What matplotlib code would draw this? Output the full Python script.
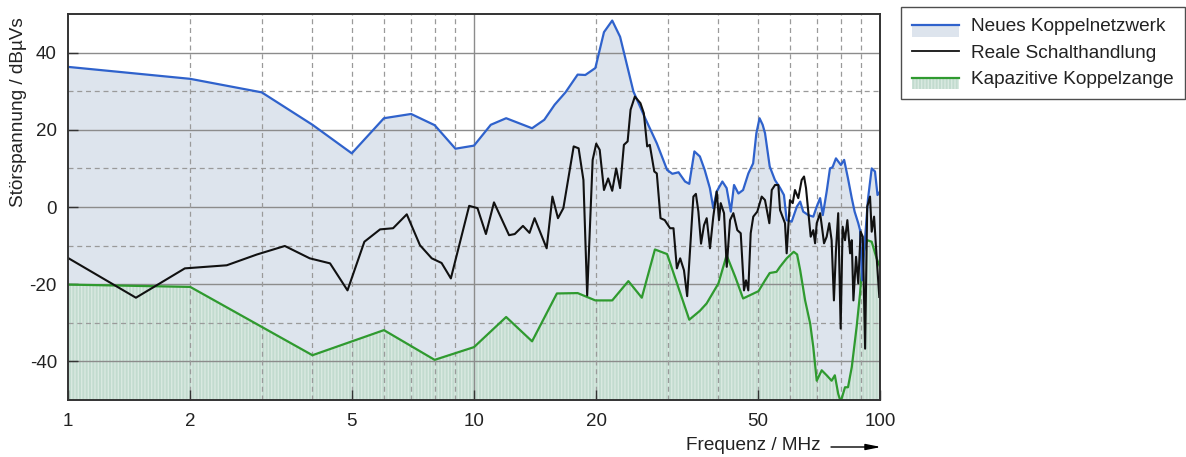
import numpy as np
import matplotlib
matplotlib.use("Agg")
import matplotlib.pyplot as plt
from matplotlib.lines import Line2D
from matplotlib.patches import Rectangle, Patch
from matplotlib.legend_handler import HandlerBase
from matplotlib.ticker import FixedLocator, NullLocator, NullFormatter

plt.rcParams['font.family'] = ['Liberation Sans', 'DejaVu Sans']
plt.rcParams['hatch.linewidth'] = 1.0

# Neues Koppelnetzwerk (frequency in MHz, level in dBµVs)
f_netz = [1.0, 2.0, 3.0, 4.0, 5.0, 6.0, 7.0, 8.0, 9.0, 10.0, 11.0, 12.0, 13.9, 14.9,
          15.8, 16.8, 18.0, 18.8, 19.9, 20.9, 21.9, 22.9, 24.7, 26.4, 28.2, 29.9,
          30.8, 31.9, 33.1, 33.9, 34.9, 36.0, 37.0, 38.1, 38.85, 39.6, 40.9, 41.9,
          42.9, 43.7, 44.8, 46.0, 47.4, 48.7, 49.6, 50.5, 51.4, 52.1, 53.5, 55.1,
          56.7, 58.0, 58.9, 60.6, 62.4, 63.6, 64.7, 66.6, 68.5, 69.85, 71.2, 72.3,
          73.9, 75.3, 76.4, 77.9, 78.9, 80.1, 81.6, 83.4, 85.2, 86.6, 88.4, 89.3,
          90.3, 91.9, 93.4, 95.4, 97.2, 98.6, 100.0]
y_netz = [36.3, 33.2, 29.7, 21.3, 13.9, 23.0, 24.1, 21.2, 15.1, 15.9, 21.3, 23.0, 20.4, 22.6,
          26.5, 29.7, 34.3, 34.2, 36.0, 45.3, 48.3, 44.1, 29.9, 23.0, 16.5, 9.6,
          8.6, 9.0, 6.6, 6.0, 14.4, 13.1, 9.6, 4.9, -0.3, 4.0, 6.6, 4.9,
          -1.2, 5.7, 3.5, 4.4, 8.7, 11.3, 19.1, 23.0, 21.3, 19.1, 10.5, 7.0,
          5.0, 3.1, -3.4, -3.8, 0.1, 1.4, -1.2, -2.1, -2.5, 0.1, 2.3, -2.1,
          4.0, 10.0, 10.3, 12.6, 11.8, 10.9, 12.2, 7.4, 2.3, -1.2, -4.2, -6.0,
          -19.0, -8.0, 2.0, 10.0, 9.2, 3.1, 4.0]

# Reale Schalthandlung
f_real = [1.0, 1.47, 1.94, 2.46, 2.92, 3.42, 3.94, 4.42, 4.88, 5.37, 5.87, 6.32, 6.83,
          7.36, 7.87, 8.32, 8.77, 9.73, 10.2, 10.7, 11.2, 12.2, 12.6, 13.2, 13.7,
          14.1, 15.1, 15.6, 16.1, 16.6, 17.6, 18.1, 18.6, 19.0, 19.6, 20.0, 20.4,
          20.9, 21.4, 21.9, 22.4, 22.9, 23.4, 23.9, 24.3, 24.9, 25.7, 26.2, 26.7,
          27.1, 27.8, 28.2, 28.8, 29.5, 30.4, 31.0, 31.6, 32.2, 32.9, 33.5, 34.7,
          35.2, 35.7, 36.24, 36.86, 37.42, 38.13, 38.85, 39.61, 40.13, 40.52, 41.29,
          41.93, 42.72, 43.53, 44.52, 45.39, 46.24, 46.77, 47.38, 48.03, 48.74,
          49.86, 51.12, 52.08, 53.39, 54.12, 55.14, 56.18, 56.73, 58.34, 58.9,
          60.01, 60.95, 61.74, 62.91, 64.13, 65.0, 65.73, 66.6, 67.5, 68.5, 69.2,
          69.85, 71.2, 71.85, 72.8, 73.9, 75.0, 76.0, 77.0, 77.9, 78.9, 80.0, 80.9,
          82.0, 83.1, 84.4, 85.2, 86.0, 87.3, 88.4, 89.6, 90.7, 91.9, 93.0, 94.5,
          95.4, 96.7, 98.1, 99.6]
y_real = [-13.2, -23.5, -15.9, -15.1, -12.3, -10.1, -13.3, -14.6, -21.6, -9.0, -5.8, -5.5, -1.9,
          -9.9, -13.3, -14.5, -18.5, 0.3, -0.3, -7.0, 1.2, -7.3, -7.0, -4.9, -6.7,
          -2.9, -10.7, 2.7, -2.9, -0.3, 15.7, 15.2, 7.0, -22.9, 12.2, 16.4, 14.8,
          4.4, 7.4, 4.2, 10.0, 4.9, 16.1, 17.0, 25.2, 28.6, 26.9, 24.3, 15.7,
          16.1, 9.2, 8.7, -2.9, -3.4, -5.5, -5.5, -15.9, -13.3, -16.4, -23.1, 2.7,
          3.4, -1.2, -9.5, -4.7, -2.9, -10.7, -2.5, 4.0, -3.4, 1.0, -1.6,
          -15.5, -3.4, -1.6, -6.0, -6.8, -21.6, -19.0, -21.6, -6.8, -2.5,
          -1.2, 2.7, 1.8, -4.2, 4.4, 5.7, 5.7, -0.8, -4.2, -12.0,
          1.8, 1.0, 4.4, 2.3, 7.0, 7.9, 4.9, -1.2, -7.7, -6.0, -9.4,
          -4.2, -1.6, -4.7, -9.4, -7.7, -4.2, -8.6, -24.2, -11.2, -1.6, -31.5, -5.1,
          -8.6, -3.4, -12.0, -8.6, -24.2, -12.9, -19.8, -6.4, -7.7, -36.7, 0.1, 2.7,
          -6.4, -2.5, -12.9, -23.3]

# Kapazitive Koppelzange
f_zange = [1.0, 2.0, 4.0, 6.0, 8.0, 10.0, 12.0, 13.9, 16.0, 18.0, 19.9, 21.9, 24.0,
           25.9, 27.9, 29.9, 33.9, 36.0, 37.4, 40.0, 41.9, 44.0, 46.0, 50.2, 52.1,
           53.5, 55.6, 56.7, 58.9, 61.3, 62.5, 63.6, 65.4, 67.3, 68.5, 69.85, 71.85,
           73.9, 76.0, 77.4, 78.9, 80.0, 82.0, 83.4, 85.2, 87.6, 89.3, 90.9, 93.0,
           95.4, 98.1, 100.0]
y_zange = [-20.1, -20.7, -38.4, -31.9, -39.6, -36.3, -28.5, -34.8, -22.4, -22.3, -24.2, -24.2, -19.2,
           -23.5, -11.0, -12.2, -29.2, -26.9, -25.0, -19.8, -12.5, -18.1, -23.7, -21.8, -19.0,
           -17.1, -16.8, -15.5, -13.3, -11.6, -12.3, -16.4, -24.2, -30.2, -36.3, -45.0, -42.3,
           -43.6, -45.0, -43.6, -48.4, -50.5, -46.7, -46.7, -41.5, -31.0, -22.4, -12.0, -8.6,
           -9.0, -13.3, -15.5]

x_ticks = [1, 2, 5, 10, 20, 50, 100]
y_ticks = [-40, -20, 0, 20, 40]

labels = ["Neues Koppelnetzwerk", "Reale Schalthandlung", "Kapazitive Koppelzange"]

BLUE = "#2f62cc"
BLUE_FILL = "#dde4ed"
BLACK = "#111111"
GREEN = "#2f9a2f"
GREEN_FILL = "#c2dbcf"
GREEN_HATCH = "#d9e9e1"

W, H = 1186, 457
fig = plt.figure(figsize=(W / 100, H / 100), dpi=100)
ax = fig.add_axes([68 / W, 1 - 400 / H, (880 - 68) / W, (400 - 14) / H])

ax.set_xscale("log")
ax.set_xlim(1, 100)
ax.set_ylim(-50, 50)

# filled areas
ax.fill_between(f_netz, y_netz, -60, color=BLUE_FILL, lw=0, zorder=1)
ax.fill_between(f_zange, y_zange, -60, facecolor=GREEN_FILL, edgecolor=GREEN_HATCH,
                hatch="|||||", lw=0, zorder=1.2)

# grid
for yv in [-40, -20, 0, 20, 40]:
    ax.axhline(yv, color="#8c8c8c", lw=1.0, zorder=1.5)
for yv in [-30, -10, 10, 30]:
    ax.axhline(yv, color="#9a9a9a", lw=0.9, ls=(0, (4, 3)), zorder=1.5)
for xv in [2, 3, 4, 5, 6, 7, 8, 9, 20, 30, 40, 50, 60, 70, 80, 90]:
    ax.axvline(xv, color="#9a9a9a", lw=0.9, ls=(0, (4, 3)), zorder=1.5)
ax.axvline(10, color="#8c8c8c", lw=1.0, zorder=1.5)

# curves
ax.plot(f_zange, y_zange, color=GREEN, lw=1.6, zorder=3)
ax.plot(f_real, y_real, color=BLACK, lw=1.5, zorder=3.2)
ax.plot(f_netz, y_netz, color=BLUE, lw=1.6, zorder=3.1)

# axes styling
for s in ax.spines.values():
    s.set_color("#333333")
    s.set_linewidth(1.4)
    s.set_zorder(5)
ax.xaxis.set_major_locator(FixedLocator(x_ticks))
ax.xaxis.set_minor_locator(NullLocator())
ax.xaxis.set_minor_formatter(NullFormatter())
ax.set_xticklabels([str(v) for v in x_ticks])
ax.set_yticks(y_ticks)
ax.set_yticklabels([str(v) for v in y_ticks])
ax.tick_params(axis="both", direction="in", length=7, width=1.0, color="#333333",
               labelsize=13.5, labelcolor="#222222")
ax.tick_params(axis="y", pad=8)
ax.tick_params(axis="x", pad=9)

fig.text(19 / W, 1 - 112 / H, "Störspannung / dBµVs", rotation=90,
         ha="center", va="center", fontsize=13.7, color="#222222")
fig.text(821 / W, 1 - 445 / H, "Frequenz / MHz", ha="right", va="center",
         fontsize=13.7, color="#222222")
ax.annotate("", xy=(881 / W, 1 - 447 / H), xytext=(831 / W, 1 - 447 / H),
            xycoords="figure fraction", textcoords="figure fraction",
            arrowprops=dict(arrowstyle="-|>,head_length=0.9,head_width=0.18",
                            color="black", lw=1.0, shrinkA=0, shrinkB=0))


class BandHandler(HandlerBase):
    """Legend key: a line with a filled band hanging below it."""

    def __init__(self, line_color, face=None, hatch=None, hatch_color=None, lw=1.6):
        super().__init__()
        self.line_color = line_color
        self.face = face
        self.hatch = hatch
        self.hatch_color = hatch_color
        self.lw = lw

    def create_artists(self, legend, orig_handle, xdescent, ydescent, width, height,
                       fontsize, trans):
        ymid = height / 2 - ydescent
        arts = []
        if self.face is not None:
            r = Rectangle((-xdescent, ymid - 8.5), width, 8.5, facecolor=self.face,
                          edgecolor=self.hatch_color if self.hatch_color else "none",
                          hatch=self.hatch, lw=0, transform=trans)
            arts.append(r)
        ln = Line2D([-xdescent, -xdescent + width], [ymid, ymid], color=self.line_color,
                    lw=self.lw, transform=trans)
        arts.append(ln)
        return arts


h1, h2, h3 = Patch(), Patch(), Patch()
leg = fig.legend([h1, h2, h3], labels,
                 handler_map={h1: BandHandler(BLUE, BLUE_FILL),
                              h2: BandHandler(BLACK, lw=1.3),
                              h3: BandHandler(GREEN, GREEN_FILL, "|||||", GREEN_HATCH)},
                 loc="upper left", bbox_to_anchor=(901 / W, 1 - 7 / H),
                 bbox_transform=fig.transFigure, borderaxespad=0,
                 frameon=True, fancybox=False, fontsize=13.7, handlelength=2.45,
                 handletextpad=0.65, labelspacing=0.48, borderpad=0.58)
leg.get_frame().set_edgecolor("#222222")
leg.get_frame().set_linewidth(1.0)
for t in leg.get_texts():
    t.set_color("#222222")

fig.savefig("out.png", dpi=100)
